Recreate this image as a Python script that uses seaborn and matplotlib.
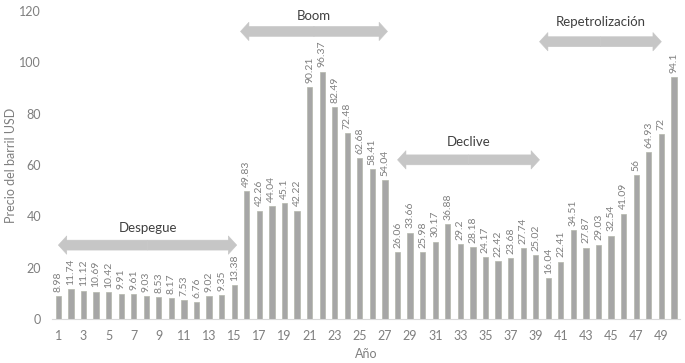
import matplotlib
matplotlib.use("Agg")
import matplotlib.pyplot as plt
import seaborn as sns
import pandas as pd

years = list(range(1, 51))
prices = [8.98, 11.74, 11.12, 10.69, 10.42, 9.91, 9.61, 9.03, 8.53, 8.17,
          7.53, 6.76, 9.02, 9.35, 13.38,
          49.83, 42.26, 44.04, 45.1, 42.22, 90.21, 96.37, 82.49, 72.48, 62.68,
          58.41, 54.04,
          26.06, 33.66, 25.98, 30.17, 36.88, 29.2, 28.18, 24.17, 22.42, 23.68,
          27.74, 25.02,
          16.04, 22.41, 34.51, 27.87, 29.03, 32.54, 41.09, 56, 64.93, 72, 94.1]

# phases: name, first year, last year, arrow height, label height
phase_names = ["Despegue", "Boom", "Declive", "Repetrolización"]
phase_start = [1, 15.5, 28, 39.3]
phase_end = [15.2, 27.2, 39.3, 49]
phase_arrow_y = [28.8, 112, 62, 108]
phase_label_y = [35.5, 118, 69, 115.5]

df = pd.DataFrame({"Año": years, "Precio": prices})

sns.set_style("white")
plt.rcParams["font.family"] = ["Lato", "DejaVu Sans"]
text_color = "#7f7f7f"

fig = plt.figure(figsize=(6.85, 3.63), dpi=100)
ax = fig.add_axes([0.076, 0.121, 0.917, 0.849])

sns.barplot(data=df, x="Año", y="Precio", color="#a6a6a6", width=0.42,
            saturation=1, edgecolor="#b4b8ac", linewidth=0.5, ax=ax)

ax.bar_label(ax.containers[0], labels=[f"{v:g}" for v in prices],
             rotation=90, padding=3, fontsize=7.5, color=text_color)

ax.set_ylim(0, 120)
ax.set_xlim(-0.5, len(years) - 0.5)
ax.set_yticks(range(0, 121, 20))
ax.set_xticks(range(0, len(years), 2))
ax.set_xticklabels([str(y) for y in years[::2]])
ax.tick_params(axis="both", length=0, labelsize=9, colors=text_color, pad=8)
ax.set_xlabel("Año", fontsize=9, color=text_color, labelpad=4)
ax.set_ylabel("Precio del barril USD", fontsize=9, color=text_color, va="center")
ax.yaxis.set_label_coords(-0.066, 0.5)

for side in ["top", "right", "left"]:
    ax.spines[side].set_visible(False)
ax.spines["bottom"].set_color("#d9d9d9")

arrow_style = "simple,head_length=0.55,head_width=1.2,tail_width=0.65"
for name, x0, x1, ya, yl in zip(phase_names, phase_start, phase_end,
                                phase_arrow_y, phase_label_y):
    xa = x0 - 1
    xb = x1 - 1
    xm = (xa + xb) / 2
    for end in (xa, xb):
        ax.annotate("", xy=(end, ya), xytext=(xm, ya),
                    arrowprops=dict(arrowstyle=arrow_style, mutation_scale=11,
                                    fc="#c6c6c6", ec="#c6c6c6", lw=0.4,
                                    shrinkA=0, shrinkB=0))
    ax.text(xm, yl, name, ha="center", va="center", fontsize=9.5, color="#404040")

fig.savefig("out.png", dpi=100)
